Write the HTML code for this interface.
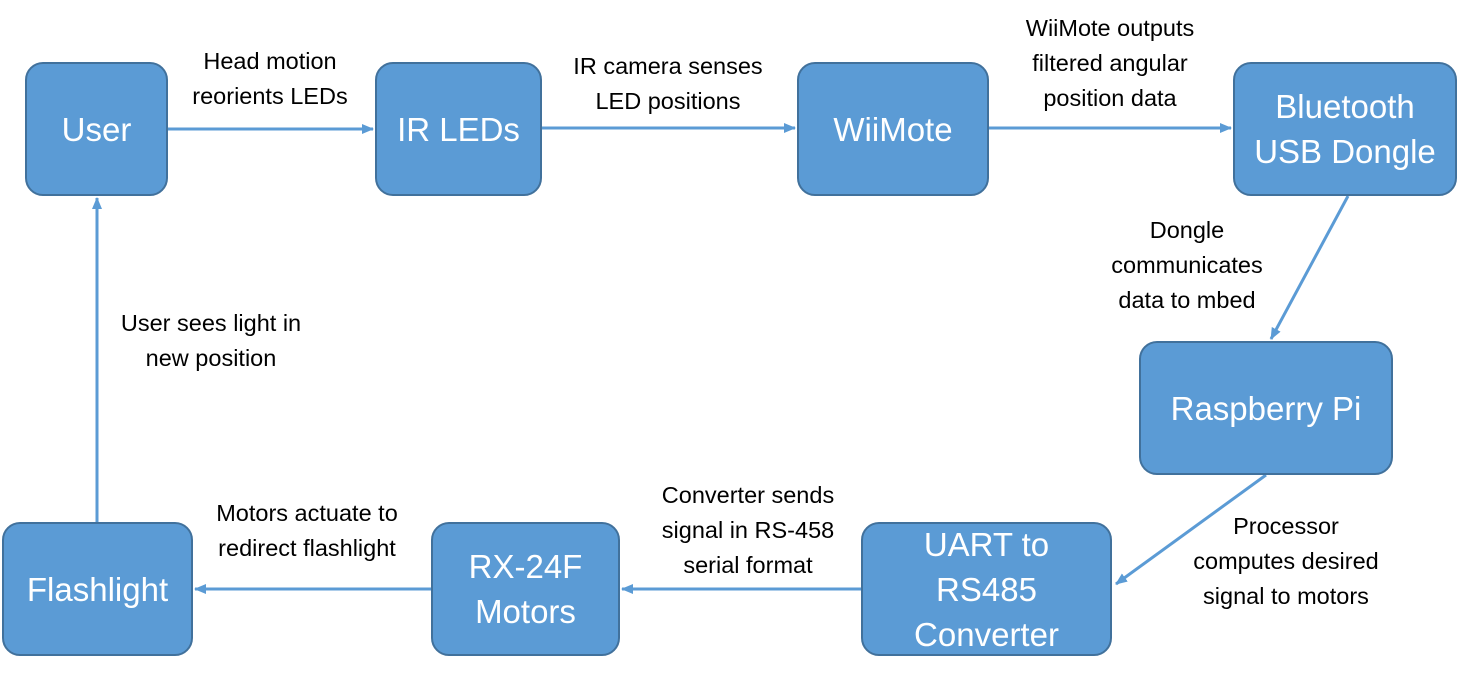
<!DOCTYPE html>
<html><head><style>
body{margin:0;width:1462px;height:679px;background:#fff;position:relative;overflow:hidden;font-family:"Liberation Sans",sans-serif}
.b{position:absolute;background:#5b9bd5;border:2px solid #41719c;border-radius:18px;box-sizing:border-box;color:#fff;font-size:33px;display:flex;align-items:center;justify-content:center;text-align:center;line-height:45px}
.l{position:absolute;font-size:23.5px;color:#000;text-align:center;line-height:35px;white-space:nowrap;transform:translateX(-50%)}
svg{position:absolute;left:0;top:0}
</style></head><body>
<svg width="1462" height="679">
<defs><marker id="a" markerWidth="12" markerHeight="10" refX="11" refY="5" orient="auto" markerUnits="userSpaceOnUse"><path d="M0,0 L12,5 L0,10 z" fill="#5b9bd5"/></marker></defs>
<g stroke="#5b9bd5" stroke-width="3" fill="none" marker-end="url(#a)">
<line x1="168" y1="129" x2="373" y2="129"/>
<line x1="542" y1="128" x2="795" y2="128"/>
<line x1="989" y1="128" x2="1231" y2="128"/>
<line x1="1348" y1="196" x2="1271" y2="339"/>
<line x1="1266" y1="475" x2="1116" y2="584"/>
<line x1="861" y1="589" x2="622" y2="589"/>
<line x1="431" y1="589" x2="195" y2="589"/>
<line x1="97" y1="522" x2="97" y2="198"/>
</g></svg>
<div class="b" style="left:25px;top:62px;width:143px;height:134px">User</div>
<div class="b" style="left:375px;top:62px;width:167px;height:134px">IR LEDs</div>
<div class="b" style="left:797px;top:62px;width:192px;height:134px">WiiMote</div>
<div class="b" style="left:1233px;top:62px;width:224px;height:134px">Bluetooth<br>USB Dongle</div>
<div class="b" style="left:1139px;top:341px;width:254px;height:134px">Raspberry Pi</div>
<div class="b" style="left:861px;top:522px;width:251px;height:134px">UART to<br>RS485<br>Converter</div>
<div class="b" style="left:431px;top:522px;width:189px;height:134px">RX-24F<br>Motors</div>
<div class="b" style="left:2px;top:522px;width:191px;height:134px">Flashlight</div>
<div class="l" style="left:270px;top:44px">Head motion<br>reorients LEDs</div>
<div class="l" style="left:668px;top:49px">IR camera senses<br>LED positions</div>
<div class="l" style="left:1110px;top:11px">WiiMote outputs<br>filtered angular<br>position data</div>
<div class="l" style="left:1187px;top:213px">Dongle<br>communicates<br>data to mbed</div>
<div class="l" style="left:211px;top:306px">User sees light in<br>new position</div>
<div class="l" style="left:1286px;top:509px">Processor<br>computes desired<br>signal to motors</div>
<div class="l" style="left:748px;top:478px">Converter sends<br>signal in RS-458<br>serial format</div>
<div class="l" style="left:307px;top:496px">Motors actuate to<br>redirect flashlight</div>
</body></html>
